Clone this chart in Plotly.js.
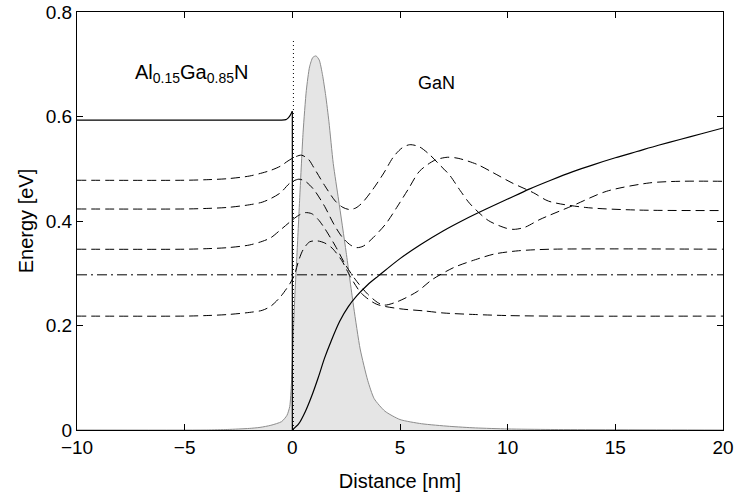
<!DOCTYPE html>
<html>
<head>
<meta charset="utf-8">
<script src="https://cdn.plot.ly/plotly-3.0.1.min.js"></script>
<style>html,body{margin:0;padding:0;background:#fff;}#chart{width:738px;height:494px;}</style>
</head>
<body>
<div id="chart"></div>
<script>
// Electron density (grey filled profile)
const densX = [-10, -4, -3, -2, -1.5, -1, -0.5, -0.25, -0.12, -0.04, 0.03, 0.12, 0.22, 0.35, 0.5, 0.65, 0.8, 0.95, 1.1, 1.25, 1.4, 1.55, 1.7, 1.9, 2.15, 2.5, 2.85, 3.15, 3.5, 3.8, 4.3, 5, 6, 7.3, 8.5, 10, 12, 20];
const densY = [0, 0, 0.001, 0.003, 0.005, 0.009, 0.016, 0.028, 0.045, 0.09, 0.17, 0.26, 0.34, 0.45, 0.57, 0.65, 0.695, 0.713, 0.716, 0.708, 0.68, 0.64, 0.59, 0.51, 0.44, 0.34, 0.235, 0.155, 0.095, 0.06, 0.036, 0.02, 0.012, 0.007, 0.004, 0.002, 0.001, 0];

// Conduction band edge
const cbLeftX = [-10, -5, -1, -0.5, -0.3, -0.2, -0.1, 0];
const cbLeftY = [0.593, 0.593, 0.593, 0.593, 0.594, 0.597, 0.602, 0.61];
const cbJumpX = [0, 0];
const cbJumpY = [0.61, 0];
const cbRightX = [0, 0.3, 0.6, 0.9, 1.2, 1.5, 1.8, 2.2, 2.6, 3, 3.5, 4, 5, 6, 7, 8, 9, 10, 11, 12, 13, 14, 15, 16, 17, 18, 19, 20];
const cbRightY = [0, 0.012, 0.035, 0.065, 0.1, 0.138, 0.17, 0.208, 0.236, 0.257, 0.278, 0.295, 0.328, 0.356, 0.381, 0.403, 0.423, 0.442, 0.461, 0.478, 0.494, 0.508, 0.521, 0.533, 0.545, 0.556, 0.567, 0.578];

// Interface marker (dotted)
const ifaceX = [0.05, 0.05];
const ifaceY = [0, 0.748];

// Fermi level
const fermiX = [-10, 20];
const fermiY = [0.297, 0.297];

// Subband wavefunctions (energy + psi)
const wf1X = [-10, -5, -4, -3, -2, -1.4, -1, -0.55, -0.1, 0.1, 0.3, 0.5, 0.8, 1.15, 1.5, 1.85, 2.3, 2.7, 3.2, 3.9, 5, 6.1, 7, 8.5, 10, 12, 20];
const wf1Y = [0.218, 0.218, 0.219, 0.221, 0.225, 0.229, 0.237, 0.255, 0.281, 0.297, 0.325, 0.345, 0.36, 0.362, 0.358, 0.348, 0.324, 0.293, 0.262, 0.241, 0.232, 0.228, 0.224, 0.221, 0.219, 0.218, 0.218];

const wf2X = [-10, -5, -4, -3, -2, -1.4, -1, -0.55, 0, 0.3, 0.6, 0.9, 1.2, 1.5, 2, 2.5, 3, 3.5, 4, 4.3, 4.9, 5.8, 6.5, 7.5, 8.5, 9.4, 10.5, 12, 20];
const wf2Y = [0.346, 0.346, 0.347, 0.349, 0.354, 0.361, 0.368, 0.383, 0.402, 0.411, 0.416, 0.414, 0.403, 0.386, 0.352, 0.314, 0.284, 0.26, 0.243, 0.239, 0.246, 0.265, 0.288, 0.311, 0.326, 0.337, 0.343, 0.346, 0.346];

const wf3X = [-10, -5, -4, -3, -2, -1.4, -1, -0.55, -0.1, 0.3, 0.6, 1, 1.5, 1.9, 2.3, 2.7, 3, 3.3, 3.75, 4.35, 4.85, 5.4, 5.9, 6.6, 7.2, 7.7, 8.6, 9.3, 10.2, 11.2, 11.9, 13.6, 16, 20];
const wf3Y = [0.423, 0.423, 0.424, 0.426, 0.431, 0.436, 0.443, 0.454, 0.473, 0.48, 0.476, 0.46, 0.428, 0.396, 0.37, 0.354, 0.349, 0.352, 0.368, 0.395, 0.426, 0.462, 0.495, 0.516, 0.522, 0.52, 0.508, 0.493, 0.473, 0.454, 0.438, 0.426, 0.421, 0.42];

const wf4X = [-10, -5, -4, -3, -2, -1.4, -1, -0.55, -0.2, 0.1, 0.42, 0.75, 1, 1.5, 2, 2.35, 2.65, 2.95, 3.25, 3.73, 4.25, 4.7, 5.1, 5.45, 5.9, 6.4, 6.9, 7.3, 7.8, 8.25, 9.1, 9.95, 10.3, 10.8, 11.5, 13, 14.6, 16.6, 18, 20];
const wf4Y = [0.478, 0.478, 0.479, 0.481, 0.486, 0.492, 0.497, 0.505, 0.515, 0.522, 0.526, 0.518, 0.502, 0.468, 0.438, 0.426, 0.422, 0.425, 0.435, 0.46, 0.492, 0.523, 0.54, 0.546, 0.542, 0.526, 0.505, 0.488, 0.458, 0.433, 0.401, 0.386, 0.384, 0.388, 0.403, 0.429, 0.457, 0.473, 0.476, 0.476];

// Axis ticks
const xTicks = [-10, -5, 0, 5, 10, 15, 20];
const xTickText = ['\u221210', '\u22125', '0', '5', '10', '15', '20'];
const yTicks = [0, 0.2, 0.4, 0.6, 0.8];
const yTickText = ['0', '0.2', '0.4', '0.6', '0.8'];

const FONT = 'Liberation Sans, Arial, Helvetica, sans-serif';
const dashWF = '9px,5px';
const wfLine = {color: '#000', width: 1, dash: dashWF, shape: 'spline', smoothing: 0.8};

const traces = [
  {x: densX, y: densY, mode: 'lines', fill: 'tozeroy', fillcolor: '#e5e5e5',
   line: {color: '#8c8c8c', width: 1, shape: 'spline', smoothing: 0.6}, hoverinfo: 'skip'},
  {x: fermiX, y: fermiY, mode: 'lines', line: {color: '#000', width: 1, dash: '10px,4px,2px,4px'}},
  {x: wf1X, y: wf1Y, mode: 'lines', line: wfLine},
  {x: wf2X, y: wf2Y, mode: 'lines', line: wfLine},
  {x: wf3X, y: wf3Y, mode: 'lines', line: wfLine},
  {x: wf4X, y: wf4Y, mode: 'lines', line: wfLine},
  {x: ifaceX, y: ifaceY, mode: 'lines', line: {color: '#000', width: 1, dash: '1px,3px'}},
  {x: cbLeftX, y: cbLeftY, mode: 'lines', line: {color: '#000', width: 1.2, shape: 'spline', smoothing: 0.6}},
  {x: cbJumpX, y: cbJumpY, mode: 'lines', line: {color: '#000', width: 1.2}},
  {x: cbRightX, y: cbRightY, mode: 'lines', line: {color: '#000', width: 1.2, shape: 'spline', smoothing: 0.8}}
];

const layout = {
  width: 738, height: 494,
  margin: {l: 77, r: 15, t: 12, b: 64},
  paper_bgcolor: '#fff', plot_bgcolor: '#fff',
  showlegend: false,
  font: {family: FONT, size: 19, color: '#000'},
  xaxis: {
    range: [-10, 20], tickmode: 'array', tickvals: xTicks, ticktext: xTickText,
    ticks: 'inside', ticklen: 6, tickwidth: 1, tickcolor: '#000',
    showline: true, linecolor: '#000', linewidth: 1, mirror: 'ticks',
    showgrid: false, zeroline: false,
    tickfont: {family: FONT, size: 19, color: '#000'},
    title: {text: 'Distance [nm]', font: {family: FONT, size: 20, color: '#000'}, standoff: 17}
  },
  yaxis: {
    range: [0, 0.8], tickmode: 'array', tickvals: yTicks, ticktext: yTickText,
    ticks: 'inside', ticklen: 6, tickwidth: 1, tickcolor: '#000',
    showline: true, linecolor: '#000', linewidth: 1, mirror: 'ticks',
    showgrid: false, zeroline: false,
    tickfont: {family: FONT, size: 19, color: '#000'},
    title: {text: 'Energy [eV]', font: {family: FONT, size: 20, color: '#000'}, standoff: 6}
  },
  annotations: [
    {x: -4.7, y: 0.683, xref: 'x', yref: 'y', text: 'Al<sub>0.15</sub>Ga<sub>0.85</sub>N', showarrow: false,
     font: {family: FONT, size: 20, color: '#000'}},
    {x: 6.7, y: 0.665, xref: 'x', yref: 'y', text: 'GaN', showarrow: false,
     font: {family: FONT, size: 18, color: '#000'}}
  ]
};

Plotly.newPlot('chart', traces, layout, {staticPlot: true, displayModeBar: false});
</script>
</body>
</html>
